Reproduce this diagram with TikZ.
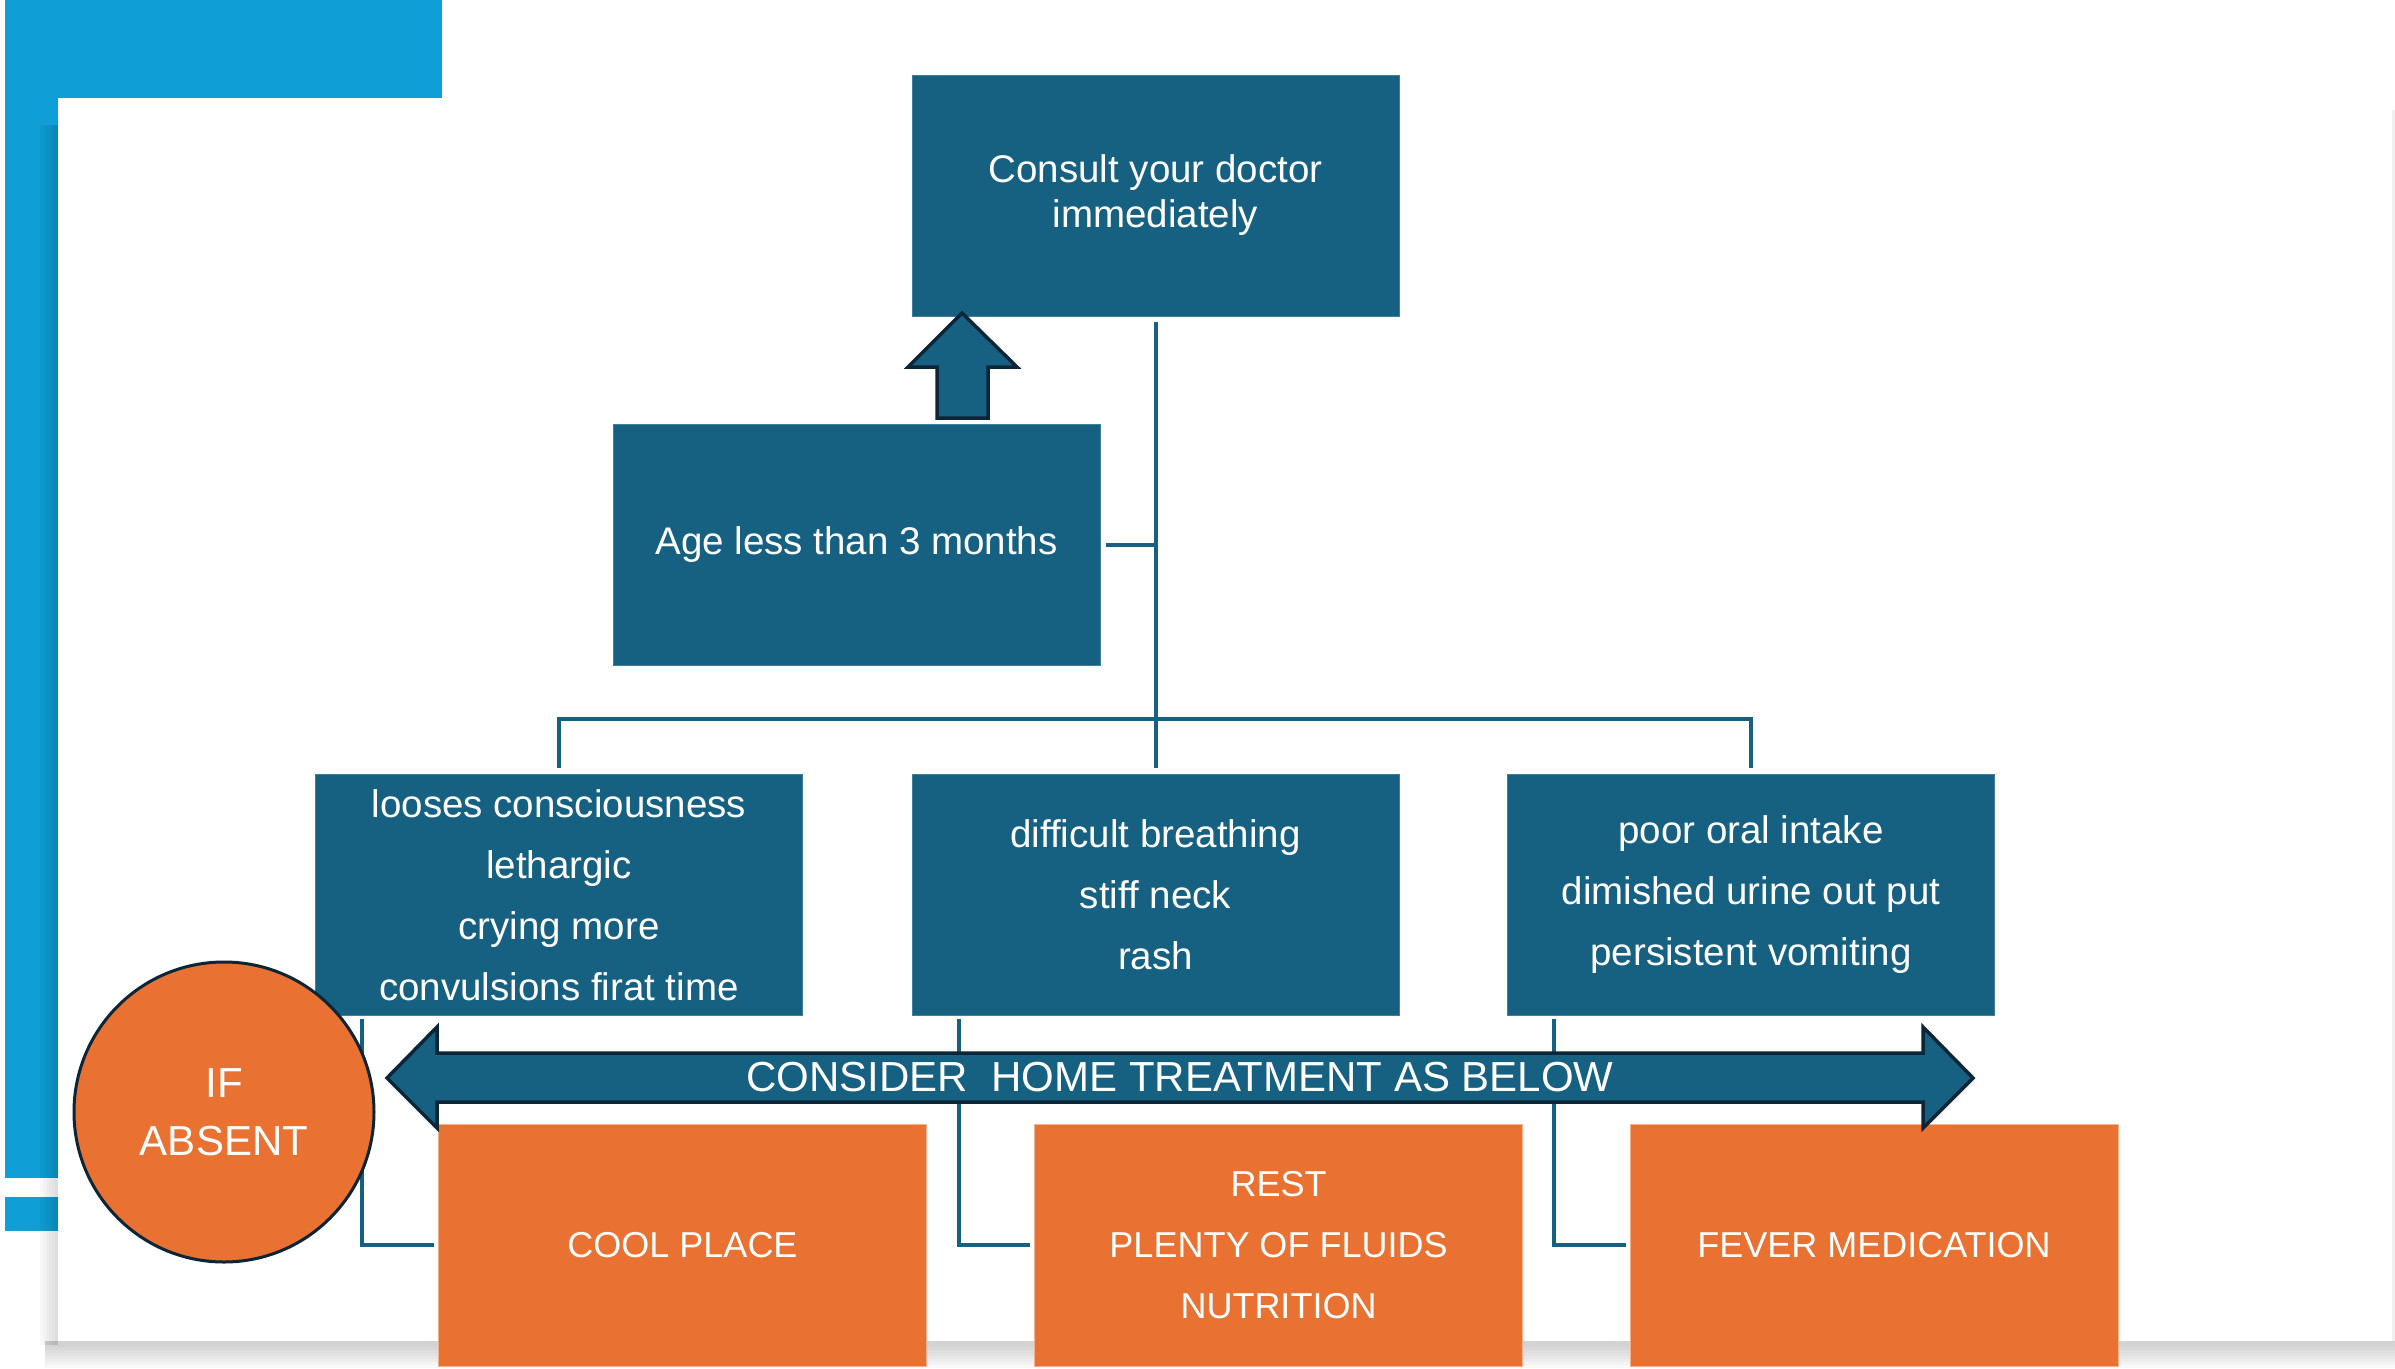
\documentclass[tikz,border=0pt]{standalone}
\usepackage{fontspec}
\setmainfont{Liberation Sans}
\usetikzlibrary{calc}
\definecolor{accentblue}{HTML}{0F9ED5}
\definecolor{boxblue}{HTML}{166082}
\definecolor{boxedge}{HTML}{3F7E9C}
\definecolor{warmorange}{HTML}{E97132}
\definecolor{inkdark}{HTML}{0C2537}

\begin{document}
\begin{tikzpicture}[x=1pt,y=-1pt,
  bluebox/.style={fill=boxblue, draw=boxedge, line width=1pt,
    minimum width=487pt, minimum height=241pt, text=white, align=center,
    inner sep=0pt, font=\fontsize{38.5}{61}\selectfont},
  orangebox/.style={fill=warmorange, draw=warmorange!55!white, line width=1pt,
    minimum width=488pt, minimum height=242pt, text=white, align=center,
    inner sep=0pt, font=\fontsize{36}{61}\selectfont},
  link/.style={draw=boxblue, line width=4pt},
  bigarrow/.style={fill=boxblue, draw=inkdark, line width=3.5pt, line join=miter},
  badge/.style={circle, fill=warmorange, draw=inkdark, line width=3pt,
    minimum size=300pt, inner sep=0pt, text=white, align=center,
    font=\fontsize{42}{58}\selectfont}
]
\useasboundingbox (0,0) rectangle (2395,1368);

% blue L-shaped frame accent
\fill[accentblue] (5,0) rectangle (442,98);
\fill[accentblue] (5,98) rectangle (58,1178);
\fill[accentblue] (5,1197) rectangle (58,1231);

% soft shadow of the white panel
\foreach \k in {1,...,6}
  \fill[black, opacity=0.022] (58-3*\k,125) rectangle (58,1345);
\foreach \h in {27,24,21,18,15,12,9,6}
  \fill[black, opacity=0.022] (45,1341) rectangle (2395,1341+\h);
\fill[black, opacity=0.06] (2392,110) rectangle (2395,1341);

% white panel
\fill[white] (58,98) rectangle (2392,1341);

% boxes
\node[bluebox, font=\fontsize{38.5}{45}\selectfont] (consult) at (1155.5,195.5)
  {Consult your doctor\\immediately};
\node[bluebox] (age) at (856.5,545) {Age less than 3 months};
\node[bluebox] (symA) at (559,895)
  {looses consciousness\\lethargic\\crying more\\convulsions firat time};
\node[bluebox] (symB) at (1155.5,895) {difficult breathing\\stiff neck\\rash};
\node[bluebox] (symC) at (1751,895)
  {poor oral intake\\dimished urine out put\\persistent vomiting};

\node[orangebox] (cool) at (682.5,1245) {COOL PLACE};
\node[orangebox] (rest) at (1278.5,1245) {REST\\PLENTY OF FLUIDS\\NUTRITION};
\node[orangebox] (fever) at (1874,1245) {FEVER MEDICATION};

% connectors
\coordinate (bar) at (1155.5,719);
\draw[link, shorten <=5pt, shorten >=6pt] (consult.south) -- (symB.north);
\draw[link, shorten <=6pt, shorten >=6pt] (symA.north) |- (bar) -| (symC.north);
\draw[link, shorten <=5pt] (age.east) -- (age.east -| consult.south);
\draw[link, shorten <=3pt, shorten >=4pt] ($(symA.south west)+(47,0)$) |- (cool.west);
\draw[link, shorten <=3pt, shorten >=4pt] ($(symB.south west)+(47,0)$) |- (rest.west);
\draw[link, shorten <=3pt, shorten >=4pt] ($(symC.south west)+(47,0)$) |- (fever.west);

% block arrow from the age box up to the doctor box
\draw[bigarrow] (962,313) -- (1017,367) -- (988,367) -- (988,418)
  -- (937,418) -- (937,367) -- (908,367) -- cycle;

% wide double arrow with its caption
\draw[bigarrow] (387,1078) -- (437,1027) -- (437,1053) -- (1923,1053)
  -- (1923,1027) -- (1973,1078) -- (1923,1128) -- (1923,1102)
  -- (437,1102) -- (437,1128) -- cycle;
\node[text=white, inner sep=0pt, font=\fontsize{42}{50}\selectfont] (home)
  at (1180,1077) {CONSIDER\ \ HOME TREATMENT AS BELOW};

% round badge
\node[badge] (absent) at (224,1112) {IF\\ABSENT};
\end{tikzpicture}
\end{document}
